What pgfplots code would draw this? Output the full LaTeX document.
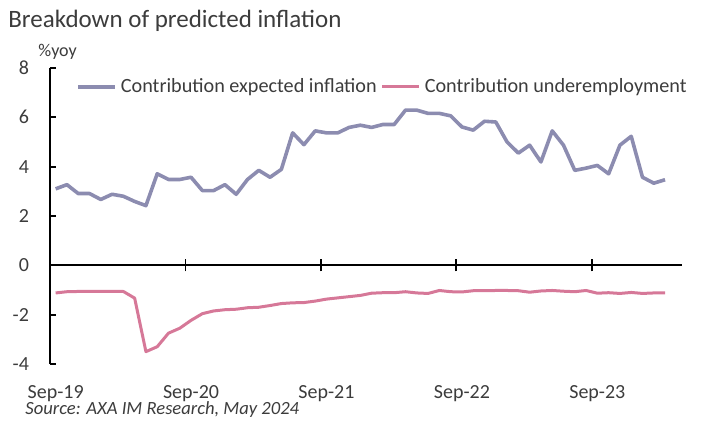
\documentclass[border=0pt]{standalone}
\usepackage{pgfplots}
\pgfplotsset{compat=1.18}
\usepackage{fontspec}
\setmainfont{Carlito}
\definecolor{infl}{RGB}{140,140,176}
\definecolor{unemp}{RGB}{214,120,152}
\definecolor{txt}{RGB}{60,60,60}
\begin{document}
\begin{tikzpicture}
\path[use as bounding box] (-25pt,-28.5pt) rectangle (329.5pt,182pt);
\begin{axis}[
  at={(0,0)}, anchor=south west,
  scale only axis, width=316pt, height=148pt,
  xmin=-0.5, xmax=55.5, ymin=-4, ymax=8,
  axis y line*=left, axis x line*=bottom,
  x axis line style={draw=none},
  y axis line style={line width=0.9pt, black},
  ytick={-4,-2,0,2,4,6,8},
  ytick style={line width=0.9pt, black},
  tick align=inside, major tick length=3pt,
  xtick={0,12,24,36,48},
  xticklabels={Sep-19,Sep-20,Sep-21,Sep-22,Sep-23},
  xtick style={draw=none},
  tick label style={font=\fontsize{10}{12}\selectfont, text=txt},
  /pgf/number format/assume math mode=true,
  yticklabel style={xshift=-7pt},
  xticklabel style={yshift=-7pt},
  clip=false,
  legend columns=2,
  legend style={at={(rel axis cs:0.041,0.936)}, anchor=west, draw=none, fill=none,
    font=\fontsize{10.1}{12}\selectfont, text=txt,
    /tikz/every even column/.append style={column sep=0pt},
    inner sep=0pt},
  legend image code/.code={\draw[#1] (0pt,0pt) -- (18.5pt,0pt);},
]
\draw[line width=0.9pt, black] (axis cs:-0.5,0) -- (axis cs:55.5,0);
\pgfplotsinvokeforeach{11.5,23.5,35.5,47.5}{
  \draw[line width=0.9pt, black] ([yshift=-3pt]axis cs:#1,0) -- ([yshift=3pt]axis cs:#1,0);
}
\addplot[infl, line width=1.8pt, line join=round] coordinates {
(0,3.10)(1,3.27)(2,2.91)(3,2.91)(4,2.67)(5,2.88)(6,2.80)(7,2.59)(8,2.42)(9,3.71)
(10,3.48)(11,3.48)(12,3.57)(13,3.03)(14,3.03)(15,3.27)(16,2.88)(17,3.48)(18,3.85)(19,3.57)
(20,3.89)(21,5.37)(22,4.89)(23,5.45)(24,5.37)(25,5.37)(26,5.59)(27,5.68)(28,5.59)(29,5.71)
(30,5.71)(31,6.29)(32,6.29)(33,6.16)(34,6.16)(35,6.06)(36,5.61)(37,5.48)(38,5.84)(39,5.81)
(40,5.00)(41,4.55)(42,4.87)(43,4.19)(44,5.45)(45,4.87)(46,3.85)(47,3.94)(48,4.05)(49,3.71)
(50,4.87)(51,5.23)(52,3.57)(53,3.33)(54,3.47)
};
\addlegendentry{Contribution expected inflation}
\addplot[unemp, line width=1.5pt, line join=round] coordinates {
(0,-1.12)(1,-1.07)(2,-1.06)(3,-1.06)(4,-1.06)(5,-1.06)(6,-1.06)(7,-1.33)(8,-3.50)(9,-3.30)
(10,-2.75)(11,-2.55)(12,-2.23)(13,-1.96)(14,-1.85)(15,-1.80)(16,-1.78)(17,-1.72)(18,-1.70)(19,-1.63)
(20,-1.55)(21,-1.52)(22,-1.51)(23,-1.45)(24,-1.37)(25,-1.32)(26,-1.27)(27,-1.22)(28,-1.13)(29,-1.11)
(30,-1.11)(31,-1.07)(32,-1.12)(33,-1.14)(34,-1.02)(35,-1.07)(36,-1.08)(37,-1.03)(38,-1.03)(39,-1.02)
(40,-1.02)(41,-1.03)(42,-1.09)(43,-1.04)(44,-1.02)(45,-1.05)(46,-1.07)(47,-1.02)(48,-1.13)(49,-1.11)
(50,-1.14)(51,-1.10)(52,-1.14)(53,-1.12)(54,-1.12)
};
\addlegendentry{Contribution underemployment}
\end{axis}
\node[anchor=base west, inner sep=0pt, text=txt, font=\fontsize{12.5}{14}\selectfont] at (-21pt,168pt) {Breakdown of predicted inflation};
\node[anchor=base west, inner sep=0pt, text=txt, font=\fontsize{9}{10}\selectfont] at (-6pt,153.5pt) {\%yoy};
\node[anchor=base west, inner sep=0pt, text=txt, font=\fontsize{9.3}{11}\selectfont\itshape] at (-12.5pt,-25.5pt) {Source: AXA IM Research, May 2024};
\end{tikzpicture}
\end{document}
